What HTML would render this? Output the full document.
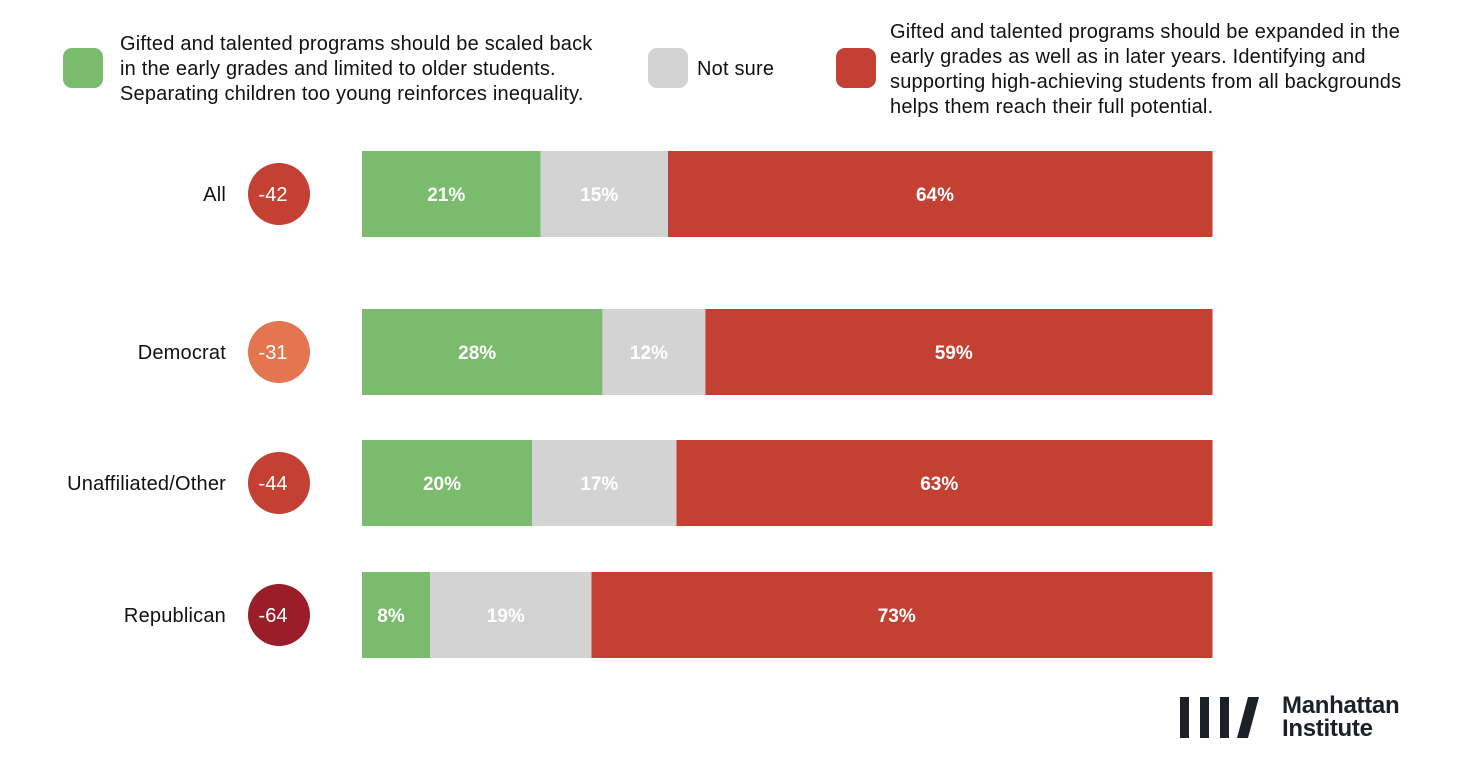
<!DOCTYPE html>
<html><head><meta charset="utf-8"><style>
body{margin:0;width:1480px;height:778px;background:#fff;font-family:"Liberation Sans",Arial,sans-serif;overflow:hidden;position:relative}
.sw{position:absolute;width:40px;height:40px;border-radius:9px;top:48px}
.lt{position:absolute;font-size:20px;line-height:25px;color:#111;letter-spacing:0.2px;white-space:nowrap}
</style></head><body>
<div class="sw" style="left:63px;background:#7bbb6e"></div>
<div class="lt" style="left:120px;top:32px">Gifted and talented programs should be scaled back<br>in the early grades and limited to older students.<br>Separating children too young reinforces inequality.</div>
<div class="sw" style="left:648px;background:#d3d3d3"></div>
<div class="lt" style="left:697px;top:57px">Not sure</div>
<div class="sw" style="left:836px;background:#c44032"></div>
<div class="lt" style="left:890px;top:20px">Gifted and talented programs should be expanded in the<br>early grades as well as in later years. Identifying and<br>supporting high-achieving students from all backgrounds<br>helps them reach their full potential.</div>
<svg id="chart" width="1480" height="778" style="position:absolute;left:0;top:0"></svg>
<div style="position:absolute;left:1180px;top:696px">
<svg width="90" height="44" style="position:absolute;left:0;top:0"><rect x="0" y="1" width="9" height="41" fill="#1e2029"/><rect x="20" y="1" width="9" height="41" fill="#1e2029"/><rect x="40" y="1" width="9" height="41" fill="#1e2029"/><polygon points="68,1 79,1 68,42 57,42" fill="#1e2029"/></svg>
<div style="position:absolute;left:102px;top:-2px;font-weight:bold;font-size:24px;line-height:23px;color:#1e2029;letter-spacing:-0.3px;white-space:nowrap">Manhattan<br>Institute</div>
</div>
<script>
const categories=["All","Democrat","Unaffiliated/Other","Republican"];
const scaleBack=[21,28,20,8];
const notSure=[15,12,17,19];
const expand=[64,59,63,73];
const netScores=[-42,-31,-44,-64];
const netColors=["#c44032","#e3754f","#c44032","#9a1e2a"];
const rowY=[151,309,440,572];
const svg=document.getElementById('chart');
const NS="http://www.w3.org/2000/svg";
const x0=362,W=850,H=86;
function mk(t,a){const e=document.createElementNS(NS,t);for(const k in a)e.setAttribute(k,a[k]);svg.appendChild(e);return e;}
categories.forEach((c,i)=>{
  const y=rowY[i],cy=y+H/2;
  const lab=mk('text',{x:226,y:cy+7,'text-anchor':'end','font-size':20,fill:'#111','letter-spacing':0.2});lab.textContent=c;
  
  
  const circ=mk('circle',{cx:279,cy:cy,r:31,fill:netColors[i]});
  
  
  const nt=mk('text',{x:273,y:cy+7,'text-anchor':'middle','font-size':20,fill:'#fff'});nt.textContent=netScores[i];
  
  
  const vals=[scaleBack[i],notSure[i],expand[i]];
  const tot=vals.reduce((a,b)=>a+b,0);
  const cols=["#7bbb6e","#d3d3d3","#c44032"];
  const names=["bar-scale-back","bar-not-sure","bar-expand"];
  let x=x0;
  vals.forEach((v,j)=>{
    const w=v/tot*W;
    const r=mk('rect',{x:x,y:y,width:w+0.5,height:H,fill:cols[j]});
    
    
    const t=mk('text',{x:x+w/2-5,y:cy+7,'text-anchor':'middle','font-size':19,'font-weight':'bold',fill:'#fff'});t.textContent=v+'%';
    
    
    x+=w;
  });
});
</script>
</body></html>
